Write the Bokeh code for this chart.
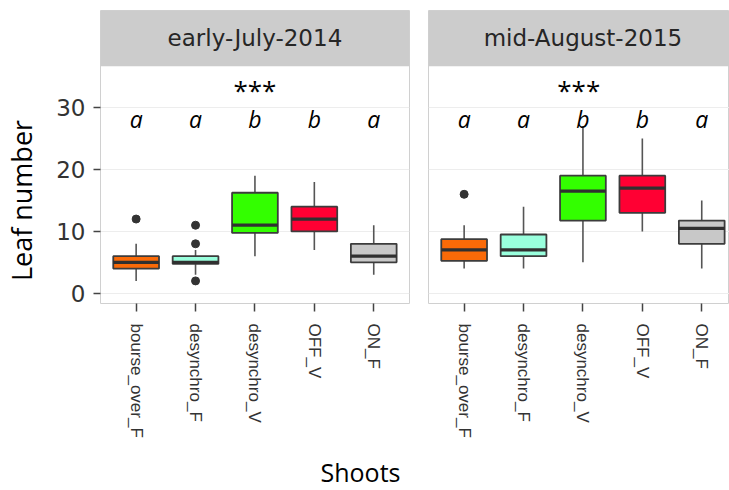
import numpy as np
from bokeh.plotting import figure
from bokeh.models import ColumnDataSource, Range1d, FixedTicker
from bokeh.layouts import row, column
from bokeh.core.properties import value
from bokeh.embed import file_html
from bokeh.resources import INLINE

# ---------------- data ----------------
categories = ["bourse_over_F", "desynchro_F", "desynchro_V", "OFF_V", "ON_F"]
box_colors = ["#FA6A08", "#99FFDD", "#33FF00", "#FF0033", "#C8C8C8"]
letters = ["a", "a", "b", "b", "a"]
panels = ["early-July-2014", "mid-August-2015"]

lo_2014 = [2, 3, 6, 7, 3]
q1_2014 = [4, 4.75, 9.75, 10, 5]
med_2014 = [5, 5, 11, 12, 6]
q3_2014 = [6, 6, 16.25, 14, 8]
hi_2014 = [8, 7, 19, 18, 11]
out_cat_2014 = [1, 2, 2, 2]
out_val_2014 = [12, 2, 8, 11]

lo_2015 = [4, 4, 5, 10, 4]
q1_2015 = [5.25, 6, 11.75, 13, 8]
med_2015 = [7, 7, 16.5, 17, 10.5]
q3_2015 = [8.75, 9.5, 19, 19, 11.75]
hi_2015 = [11, 14, 27, 25, 15]
out_cat_2015 = [1]
out_val_2015 = [16]

y_ticks = [0, 10, 20, 30]

# ---------------- layout / style ----------------
Y0, PANEL_TOP, Y1 = -1.65, 36.7, 45.7
BOX_W = 0.77
TXT = "#333333"
TOP, FRAME_H, BOTTOM = 10, 293, 138
FIG_H = TOP + FRAME_H + BOTTOM
LABEL_W = 50
UNIT_PX = 59.4


def make_panel(title, lo, q1, med, q3, hi, oc, ov, frame_w, left_border, right_border, first, star_x):
    x_end = 0.4 + frame_w / UNIT_PX
    p = figure(width=left_border + frame_w + right_border, height=FIG_H,
               x_range=Range1d(0.4, x_end), y_range=Range1d(Y0, Y1),
               output_backend="svg", toolbar_location=None,
               min_border_left=left_border, min_border_right=right_border,
               min_border_top=TOP, min_border_bottom=BOTTOM,
               y_axis_location="left" if first else None)
    p.background_fill_color = "white"
    p.border_fill_color = "white"
    p.outline_line_color = "#D0D0D0"
    p.outline_line_width = 1

    xs = list(range(1, len(categories) + 1))
    src = ColumnDataSource(dict(x=xs, lo=lo, q1=q1, med=med, q3=q3, hi=hi,
                                color=box_colors, letter=letters,
                                mx0=list(np.array(xs) - BOX_W / 2),
                                mx1=list(np.array(xs) + BOX_W / 2)))

    # strip
    p.quad(left=0.4, right=x_end, bottom=PANEL_TOP, top=Y1,
           fill_color="#CCCCCC", line_color=None)
    p.text(x=[3], y=[(PANEL_TOP + Y1) / 2], text=[title],
           text_align="center", text_baseline="middle",
           text_font=value("DejaVu Sans"), text_font_size="23px",
           text_color="#262626")

    # whiskers
    p.segment(x0="x", y0="q3", x1="x", y1="hi", source=src,
              line_color="#555555", line_width=1.6)
    p.segment(x0="x", y0="q1", x1="x", y1="lo", source=src,
              line_color="#555555", line_width=1.6)
    # boxes
    p.vbar(x="x", width=BOX_W, bottom="q1", top="q3", source=src,
           fill_color="color", line_color="#3C3C3C", line_width=1.8)
    # medians
    p.segment(x0="mx0", y0="med", x1="mx1", y1="med", source=src,
              line_color="#303030", line_width=3.2)
    # outliers
    p.scatter(x=oc, y=ov, size=8, fill_color="#333333", line_color="#333333")

    # letters and stars
    p.text(x="x", y=28.15, text="letter", source=src, text_align="center",
           text_baseline="alphabetic", text_font=value("Open Sans"),
           text_font_style="italic", text_font_size="23px", text_color="black")
    p.text(x=[star_x], y=[32.8], text=["***"], text_align="center",
           text_baseline="alphabetic", text_font=value("Open Sans"),
           text_font_size="26px", text_color="black")

    # grid
    p.xgrid.visible = False
    p.ygrid.ticker = FixedTicker(ticks=y_ticks)
    p.ygrid.grid_line_color = "#EDEDED"
    p.ygrid.grid_line_width = 1

    # x axis
    xa = p.xaxis[0]
    xa.ticker = FixedTicker(ticks=xs)
    xa.major_label_overrides = {i + 1: c for i, c in enumerate(categories)}
    xa.major_label_orientation = "vertical"
    xa.major_label_text_font = "Liberation Sans"
    xa.major_label_text_font_size = "17px"
    xa.major_label_text_color = TXT
    xa.major_label_standoff = 12
    xa.axis_line_color = None
    xa.major_tick_in = 0
    xa.major_tick_out = 8
    xa.major_tick_line_color = "#444444"
    xa.major_tick_line_width = 1.5
    xa.minor_tick_line_color = None

    if first:
        ya = p.yaxis[0]
        ya.ticker = FixedTicker(ticks=y_ticks)
        ya.major_label_text_font = "DejaVu Sans"
        ya.major_label_text_font_size = "23px"
        ya.major_label_text_color = TXT
        ya.major_label_standoff = 8
        ya.axis_line_color = None
        ya.major_tick_in = 0
        ya.major_tick_out = 7
        ya.major_tick_line_color = "#444444"
        ya.major_tick_line_width = 1.5
        ya.minor_tick_line_color = None
    return p


p1 = make_panel(panels[0], lo_2014, q1_2014, med_2014, q3_2014, hi_2014,
                out_cat_2014, out_val_2014, 309, 100 - LABEL_W, 9, True, 3)
p2 = make_panel(panels[1], lo_2015, q1_2015, med_2015, q3_2015, hi_2015,
                out_cat_2015, out_val_2015, 301, 10, 0, False, 2.93)


def blank(w, h):
    f = figure(width=w, height=h, x_range=Range1d(0, w), y_range=Range1d(0, h),
               output_backend="svg", toolbar_location=None,
               min_border_left=0, min_border_right=0, min_border_top=0,
               min_border_bottom=0, x_axis_location=None, y_axis_location=None)
    f.outline_line_color = None
    f.grid.visible = False
    f.background_fill_color = "white"
    f.border_fill_color = "white"
    return f


# y-axis title
p0 = blank(LABEL_W, FIG_H)
p0.text(x=[21], y=[FIG_H - 286], text=["Leaf number"], angle=np.pi / 2,
        text_align="center", text_baseline="alphabetic",
        text_font=value("Open Sans"), text_font_size="27px", text_color="black")

# x-axis title
TOTAL_W = LABEL_W + p1.width + p2.width
H3 = 490 - FIG_H
p3 = blank(TOTAL_W, H3)
p3.text(x=[360], y=[H3 - 471.5 + FIG_H], text=["Shoots"], text_align="center",
        text_baseline="middle", text_font=value("Open Sans"),
        text_font_size="25px", text_color="black")

layout = column(row(p0, p1, p2), p3)
open("out.html", "w").write(file_html(layout, INLINE))
